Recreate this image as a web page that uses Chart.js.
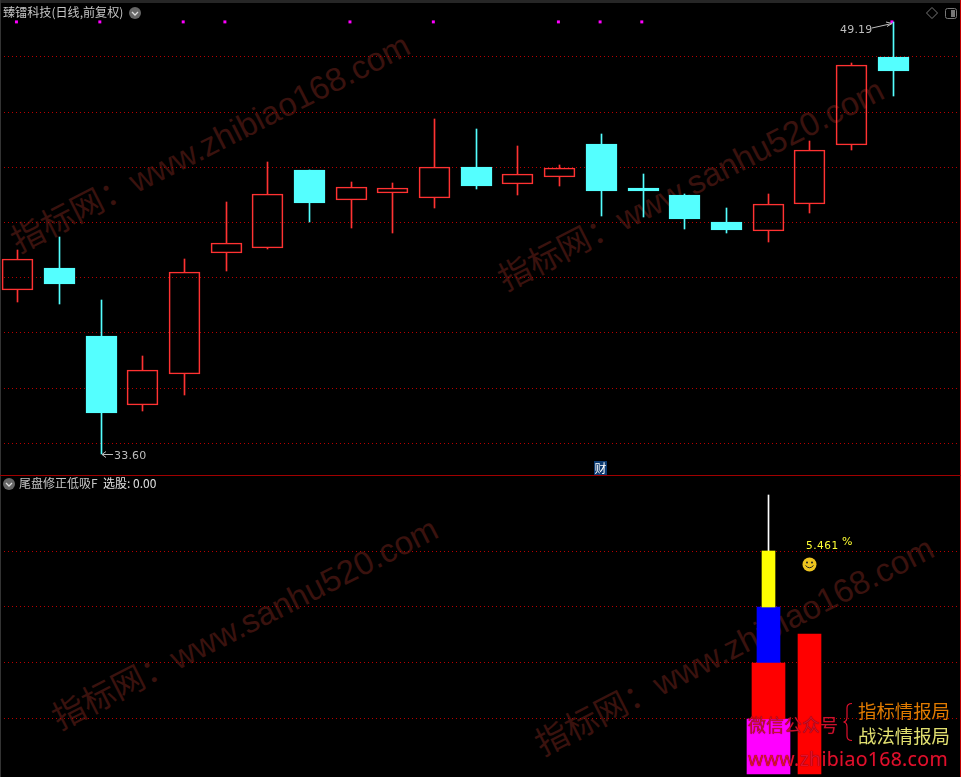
<!DOCTYPE html>
<html>
<head>
<meta charset="utf-8">
<script src="https://cdn.jsdelivr.net/npm/chart.js@4"></script>
<style>
  html, body { margin: 0; padding: 0; background: #000; }
  #stage { position: relative; width: 961px; height: 777px; overflow: hidden; background: #000;
    font-family: "Noto Sans CJK SC", "Noto Sans", sans-serif; }
  #stage canvas { position: absolute; left: 0; top: 0; }
  .wrap { position: absolute; left: 0; width: 961px; }
  .txt { position: absolute; white-space: nowrap; line-height: 1; }
  .mark { position: absolute; white-space: nowrap; line-height: 1; color: #3a120e; font-size: 33px;
    transform-origin: 0 100%; font-family: "Liberation Sans", "Noto Sans CJK SC", sans-serif; }
  svg { position: absolute; overflow: visible; }
</style>
</head>
<body>
<div id="stage">
  <!-- watermarks sit behind the charts -->
  <div class="mark" style="left:21px;top:225px;transform:rotate(-27deg)">指标网：www.zhibiao168.com</div>
  <div class="mark" style="left:508px;top:263px;transform:rotate(-27deg)">指标网：www.sanhu520.com</div>
  <div class="mark" style="left:62px;top:702px;transform:rotate(-27deg)">指标网：www.sanhu520.com</div>
  <div class="mark" style="left:545px;top:728px;transform:rotate(-27deg)">指标网：www.zhibiao168.com</div>

  <div class="wrap" style="top:0;height:475px"><canvas id="priceChart" width="961" height="475"></canvas></div>
  <div class="wrap" style="top:476px;height:301px"><canvas id="signalChart" width="961" height="301"></canvas></div>

  <!-- frame -->
  <div style="position:absolute;left:0;top:0;width:961px;height:3px;background:#262626"></div>
  <div style="position:absolute;left:0;top:0;width:1px;height:777px;background:#333"></div>
  <div style="position:absolute;left:960px;top:0;width:1px;height:777px;background:#c00000"></div>
  <div style="position:absolute;left:0;top:475px;width:961px;height:1px;background:#a00000"></div>

  <div class="txt" style="left:3px;top:6px;font-size:12.1px;color:#c4c4c4">臻镭科技(日线,前复权)</div>
  <svg style="left:129px;top:7px" width="12" height="12"><circle cx="6" cy="6" r="6" fill="#666"/><path d="M3 5l3 3 3-3" fill="none" stroke="#ddd" stroke-width="1.3"/></svg>
  <svg style="left:926px;top:7px" width="12" height="12"><path d="M6 .5L11.5 6 6 11.5 .5 6z" fill="none" stroke="#777"/></svg>
  <svg style="left:945px;top:8px" width="12" height="11"><rect x=".5" y=".5" width="11" height="10" rx="2" fill="none" stroke="#777"/><rect x="6" y="2" width="4" height="7" fill="#777"/></svg>

  <div class="txt" style="left:840px;top:24px;font-size:11px;letter-spacing:.2px;color:#bdbdbd;font-family:'DejaVu Sans'">49.19</div>
  <svg style="left:872px;top:21px" width="22" height="12"><path d="M0 7L20 2.5M14 1l6 1.5-5 3" fill="none" stroke="#bdbdbd"/></svg>
  <div class="txt" style="left:114px;top:450px;font-size:11px;letter-spacing:.2px;color:#bdbdbd;font-family:'DejaVu Sans'">33.60</div>
  <svg style="left:101px;top:450px" width="13" height="9"><path d="M12 4.5H1M5 1.5L1 4.5l4 3" fill="none" stroke="#bdbdbd"/></svg>
  <div class="txt" style="left:594px;top:461px;width:13px;height:14px;background:#0b3a70;color:#fff;font-size:12px;text-align:center;line-height:14px">财</div>

  <svg style="left:3px;top:478px" width="12" height="12"><circle cx="6" cy="6" r="6" fill="#666"/><path d="M3 5l3 3 3-3" fill="none" stroke="#ddd" stroke-width="1.3"/></svg>
  <div class="txt" style="left:19px;top:477px;font-size:12px;color:#c4c4c4">尾盘修正低吸F</div>
  <div class="txt" style="left:103px;top:477px;font-size:12px;color:#e0e0e0">选股: 0.00</div>

  <div class="txt" style="left:806px;top:540px;font-size:10.5px;letter-spacing:.5px;color:#ffff33;font-family:'DejaVu Sans'">5.461</div>
  <div class="txt" style="left:842px;top:536px;font-size:11px;color:#ffff33;font-family:'DejaVu Sans'">%</div>
  <svg style="left:802px;top:557px" width="15" height="15"><circle cx="7.5" cy="7.5" r="7" fill="#eec51f"/><circle cx="5" cy="5.5" r="1" fill="#222"/><circle cx="10" cy="5.5" r="1" fill="#222"/><path d="M3.5 8.5q4 4.500 8 0" fill="none" stroke="#222"/></svg>

  <div class="txt" style="left:748px;top:715px;font-size:18px;color:#c8102e;text-shadow:0 0 1px #500">微信公众号</div>
  <div class="txt" style="left:748px;top:749px;font-size:19.5px;letter-spacing:.3px;color:#e0102e;text-shadow:0 0 1px #500;font-family:'Noto Sans'">www.zhibiao168.com</div>
  <svg style="left:843px;top:703px" width="10" height="38"><path d="M9 .5Q4 .5 4 5V14Q4 18.500 .5 19 4 19.500 4 24V33Q4 37.500 9 37.500" fill="none" stroke="#e0102e" stroke-width="1.2"/></svg>
  <div class="txt" style="left:858px;top:701px;font-size:18.400px;color:#e07a00">指标情报局</div>
  <div class="txt" style="left:858px;top:726px;font-size:18.400px;color:#e2e070">战法情报局</div>
</div>

<script>
// candle data, one entry per trading day
const days = [0, 1, 2, 3, 4, 5, 6, 7, 8, 9, 10, 11, 12, 13, 14, 15, 16, 17, 18, 19, 20, 21];
const opens = [39.52, 40.31, 37.86, 35.37, 36.49, 40.84, 41.03, 43.85, 42.76, 43.01, 42.83, 43.96, 43.33, 43.59, 44.79, 43.20, 42.95, 41.97, 41.64, 42.61, 44.74, 47.93];
const closes = [40.64, 39.73, 35.08, 36.63, 40.17, 41.21, 42.98, 42.66, 43.22, 43.19, 43.95, 43.27, 43.69, 43.91, 43.07, 43.10, 42.08, 41.68, 42.61, 44.56, 47.63, 47.40];
const highs = [40.96, 41.43, 39.16, 37.14, 40.64, 42.69, 44.14, 43.85, 43.42, 43.37, 45.69, 45.33, 44.71, 44.03, 45.15, 43.70, 42.98, 42.48, 42.98, 44.90, 47.72, 49.19];
const lows = [39.09, 39.01, 33.60, 35.15, 35.73, 40.20, 41.00, 41.97, 41.77, 41.59, 42.49, 43.17, 42.95, 43.28, 42.20, 42.16, 41.73, 41.59, 41.26, 42.31, 44.55, 46.53];
const signalDays = [0, 2, 4, 5, 8, 10, 13, 14, 15, 21];
const priceGrid = [47.93, 45.91, 43.94, 41.94, 39.95, 37.97, 35.95, 33.96];

// lower panel bars
const signalGrid = [1, 2, 3, 4];
const magentaBar = [0, 1];
const redBar = [1, 2];
const blueBar = [2, 3];
const yellowBar = [3, 4];
const whiteBar = [4, 5];
const sideBar = [0, 2.51];
const stackDay = 18;
const sideDay = 19;

const RED = "#ff3232";
const CYAN = "#54ffff";
const GRID = "#b80000";

// TDX draws on whole pixels, so snap the bars too
const snapBars = {
  id: "snapBars",
  afterDatasetsUpdate(chart) {
    chart.data.datasets.forEach((ds, i) => {
      const meta = chart.getDatasetMeta(i);
      if (meta.type !== "bar") return;
      meta.data.forEach((el) => {
        el.x = Math.floor(el.x) + 0.5;
        el.y = Math.round(el.y);
        el.base = Math.round(el.base);
      });
    });
  },
};

function panelOptions(yMin, yMax, gridValues) {
  return {
    responsive: false,
    animation: false,
    events: [],
    layout: { padding: 0, autoPadding: false },
    plugins: { legend: { display: false }, tooltip: { enabled: false } },
    scales: {
      x: {
        type: "linear",
        display: false,
        offset: false,
        min: -0.42456,
        max: 22.6266,
      },
      y: {
        min: yMin,
        max: yMax,
        border: { display: false, dash: [1, 3] },
        ticks: { display: false },
        grid: { color: GRID, lineWidth: 1, drawTicks: false },
        afterBuildTicks(axis) {
          axis.ticks = gridValues.map((v) => ({ value: v }));
        },
      },
    },
  };
}

const upColor = days.map((i) => (closes[i] >= opens[i] ? RED : CYAN));
const bodyFill = days.map((i) => (closes[i] >= opens[i] ? "rgba(0,0,0,0)" : CYAN));

const priceChart = new Chart(document.getElementById("priceChart"), {
  type: "bar",
  plugins: [snapBars],
  data: {
    datasets: [
      {
        data: days.map((i) => ({ x: i, y: [Math.max(opens[i], closes[i]), highs[i]] })),
        backgroundColor: upColor,
        barThickness: 1,
        grouped: false,
      },
      {
        data: days.map((i) => ({ x: i, y: [lows[i], Math.min(opens[i], closes[i])] })),
        backgroundColor: upColor,
        barThickness: 1,
        grouped: false,
      },
      {
        data: days.map((i) => ({ x: i, y: [opens[i], closes[i]] })),
        backgroundColor: bodyFill,
        borderColor: upColor,
        borderWidth: 1,
        borderSkipped: false,
        barThickness: 31,
        grouped: false,
      },
      {
        type: "line",
        data: signalDays.map((i) => ({ x: i - 0.03, y: 49.19 })),
        showLine: false,
        pointStyle: "rect",
        pointRadius: 2.1,
        pointBorderWidth: 0,
        pointBackgroundColor: "#ff00ff",
      },
    ],
  },
  options: panelOptions(32.84, 49.98, priceGrid),
});

const signalChart = new Chart(document.getElementById("signalChart"), {
  type: "bar",
  plugins: [snapBars],
  data: {
    datasets: [
      { data: [{ x: stackDay, y: redBar }], backgroundColor: "#ff0000", barThickness: 33, grouped: false },
      { data: [{ x: stackDay, y: magentaBar }], backgroundColor: "#ff00ff", barThickness: 43, grouped: false },
      { data: [{ x: stackDay, y: yellowBar }], backgroundColor: "#ffff00", barThickness: 13, grouped: false },
      { data: [{ x: stackDay, y: blueBar }], backgroundColor: "#0000ff", barThickness: 23, grouped: false },
      { data: [{ x: stackDay, y: whiteBar }], backgroundColor: "#ffffff", barThickness: 1, grouped: false },
      { data: [{ x: sideDay, y: sideBar }], backgroundColor: "#ff0000", barThickness: 23, grouped: false },
    ],
  },
  options: panelOptions(-0.048, 5.346, signalGrid),
});
</script>
</body>
</html>
